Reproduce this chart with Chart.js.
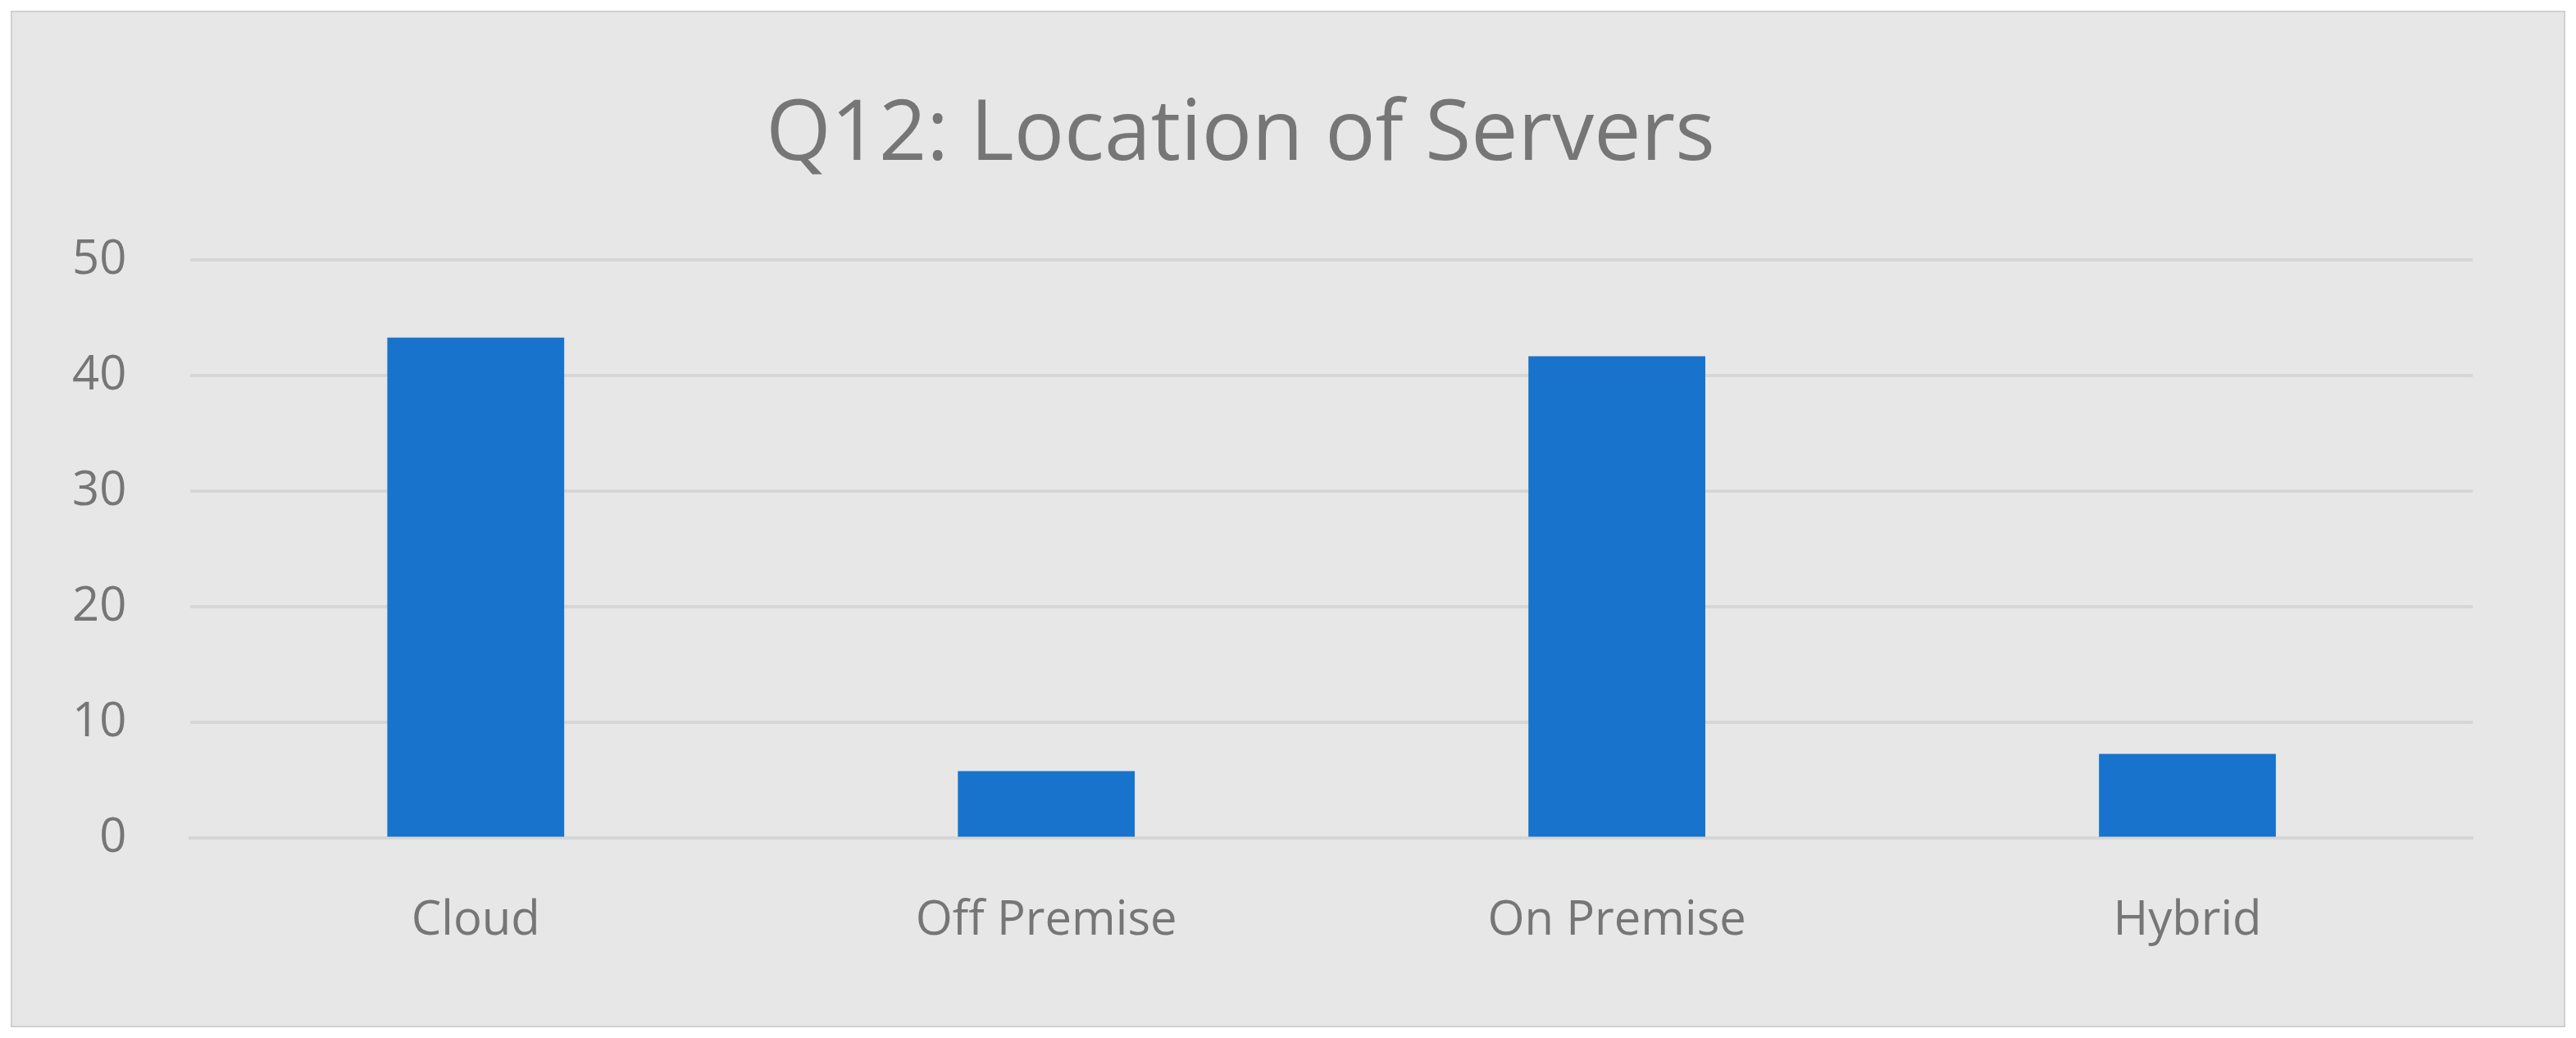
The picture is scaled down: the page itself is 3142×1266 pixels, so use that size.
<!DOCTYPE html>
<html>
<head>
<meta charset="utf-8">
<script src="https://cdn.jsdelivr.net/npm/chart.js@4.4.1/dist/chart.umd.min.js"></script>
<style>
  html, body { margin: 0; padding: 0; background: #ffffff; }
  #wrap { width: 3142px; height: 1266px; }
</style>
</head>
<body>
<div id="wrap"><canvas id="serversChart" width="3142" height="1266"></canvas></div>
<script>
const categories = ['Cloud', 'Off Premise', 'On Premise', 'Hybrid'];
const serverCounts = [43.3, 5.8, 41.7, 7.3];
const yTicks = [0, 10, 20, 30, 40, 50];

// paints the grey panel with its thin border behind the chart
const panelBackground = {
    id: 'panelBackground',
    beforeDraw: (chart) => {
        const ctx = chart.ctx;
        ctx.save();
        ctx.fillStyle = '#e7e7e7';
        ctx.fillRect(14, 14, chart.width - 28, chart.height - 28);
        ctx.strokeStyle = '#d0d0d0';
        ctx.lineWidth = 2;
        ctx.strokeRect(14, 14, chart.width - 28, chart.height - 28);
        ctx.restore();
    }
};

new Chart(document.getElementById('serversChart'), {
    type: 'bar',
    data: {
        labels: categories,
        datasets: [{
            label: 'Q12',
            data: serverCounts,
            backgroundColor: '#1873cc',
            barPercentage: 0.31,
            categoryPercentage: 1.0
        }]
    },
    options: {
        responsive: false,
        animation: false,
        devicePixelRatio: 1,
        layout: { padding: { left: 10, right: 126, top: 95, bottom: 50 } },
        plugins: {
            legend: { display: false },
            tooltip: { enabled: false },
            title: {
                display: true,
                text: 'Q12: Location of Servers',
                color: '#767676',
                font: { family: 'Open Sans', size: 102, weight: 'normal' },
                padding: { top: 10, bottom: 90 }
            }
        },
        scales: {
            x: {
                grid: { display: false },
                border: { color: '#d6d6d6', width: 4 },
                ticks: {
                    color: '#767676',
                    font: { family: 'Open Sans', size: 58 },
                    padding: 58
                }
            },
            y: {
                min: 0,
                max: 50,
                afterBuildTicks: (axis) => { axis.ticks = yTicks.map(v => ({ value: v })); },
                grid: { color: '#d6d6d6', lineWidth: 4, drawTicks: false },
                border: { display: false },
                ticks: {
                    color: '#767676',
                    font: { family: 'Open Sans', size: 58 },
                    padding: 78
                }
            }
        }
    },
    plugins: [panelBackground]
});
</script>
</body>
</html>
